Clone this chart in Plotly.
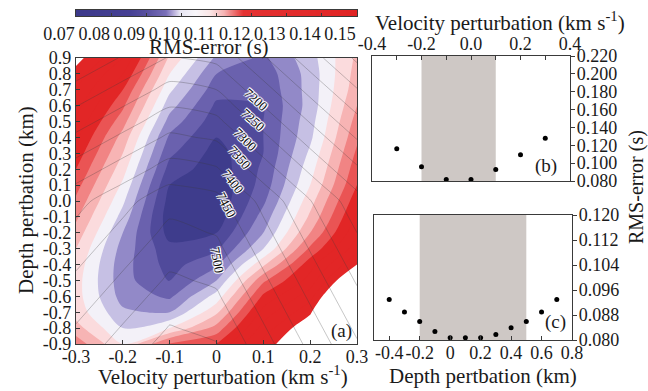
import plotly.graph_objects as go

W, H = 648, 391

# ---------------- data ----------------
vel = [-0.3, -0.2, -0.1, 0.0, 0.1, 0.2, 0.3]
# depth rows listed from top (0.9) to bottom (-0.9)
dep_top_down = [0.9, 0.8, 0.7, 0.6, 0.5, 0.4, 0.3, 0.2, 0.1, 0.0,
                -0.1, -0.2, -0.3, -0.4, -0.5, -0.6, -0.7, -0.8, -0.9]
rms_rows = [
    [0.152, 0.140, 0.114, 0.099, 0.094, 0.103, 0.116],
    [0.148, 0.135, 0.110, 0.095, 0.092, 0.102, 0.117],
    [0.145, 0.130, 0.106, 0.092, 0.091, 0.102, 0.118],
    [0.142, 0.126, 0.102, 0.089, 0.090, 0.102, 0.120],
    [0.139, 0.122, 0.098, 0.087, 0.090, 0.103, 0.122],
    [0.136, 0.118, 0.094, 0.085, 0.090, 0.104, 0.124],
    [0.133, 0.115, 0.091, 0.083, 0.090, 0.106, 0.126],
    [0.130, 0.112, 0.088, 0.082, 0.091, 0.108, 0.128],
    [0.127, 0.109, 0.085, 0.081, 0.092, 0.110, 0.130],
    [0.124, 0.106, 0.083, 0.081, 0.094, 0.113, 0.133],
    [0.121, 0.103, 0.082, 0.082, 0.097, 0.116, 0.136],
    [0.118, 0.100, 0.083, 0.085, 0.100, 0.120, 0.139],
    [0.115, 0.098, 0.0865, 0.089, 0.105, 0.126, 0.143],
    [0.113, 0.097, 0.088, 0.094, 0.114, 0.133, 0.150],
    [0.112, 0.097, 0.0895, 0.100, 0.124, 0.137, 0.160],
    [0.112, 0.098, 0.094, 0.107, 0.131, 0.143, 0.170],
    [0.113, 0.101, 0.100, 0.114, 0.137, 0.149, 0.180],
    [0.117, 0.105, 0.110, 0.122, 0.142, 0.155, 0.190],
    [0.123, 0.110, 0.126, 0.130, 0.147, 0.158, 0.200],
]
# secondary field drawn as thin grey contour lines
t_rows = [
    [7105, 7155, 7204, 7188, 7106, 7023, 6941],
    [7136, 7186, 7235, 7219, 7137, 7054, 6972],
    [7167, 7217, 7266, 7250, 7168, 7085, 7003],
    [7198, 7248, 7297, 7281, 7199, 7116, 7034],
    [7229, 7279, 7328, 7312, 7230, 7147, 7065],
    [7260, 7310, 7359, 7343, 7261, 7178, 7096],
    [7291, 7341, 7390, 7374, 7292, 7209, 7127],
    [7322, 7372, 7421, 7405, 7323, 7240, 7158],
    [7353, 7403, 7452, 7436, 7354, 7271, 7189],
    [7384, 7434, 7483, 7467, 7385, 7302, 7220],
    [7399, 7449, 7498, 7482, 7400, 7317, 7235],
    [7414, 7464, 7513, 7497, 7415, 7332, 7250],
    [7429, 7479, 7528, 7512, 7430, 7347, 7265],
    [7444, 7494, 7543, 7527, 7445, 7362, 7280],
    [7459, 7509, 7558, 7542, 7460, 7377, 7295],
    [7474, 7524, 7573, 7557, 7475, 7392, 7310],
    [7489, 7539, 7588, 7572, 7490, 7407, 7325],
    [7504, 7554, 7603, 7587, 7505, 7422, 7340],
    [7519, 7569, 7618, 7602, 7520, 7437, 7355],
]
label_vals = [7200, 7250, 7300, 7350, 7400, 7450, 7500]
label_vel = [0.084, 0.077, 0.061, 0.049, 0.035, 0.020, 0.002]
label_dep = [0.638, 0.512, 0.386, 0.271, 0.124, -0.025, -0.374]
label_angle = [42, 42, 45, 48, 52, 62, 80]

b_vel = [-0.3, -0.2, -0.1, 0.0, 0.1, 0.2, 0.3]
b_rms = [0.116, 0.0959, 0.0818, 0.0818, 0.0929, 0.1095, 0.128]
b_shade = [-0.2, 0.1]

c_dep = [-0.4, -0.3, -0.2, -0.1, 0.0, 0.1, 0.2, 0.3, 0.4, 0.5, 0.6, 0.7]
c_rms = [0.0930, 0.0890, 0.0859, 0.0827, 0.0807, 0.0807, 0.0807, 0.0818,
         0.0839, 0.0859, 0.0890, 0.0930]
c_shade = [-0.2, 0.5]

a_xticks = [-0.3, -0.2, -0.1, 0.0, 0.1, 0.2, 0.3]
a_xtext = ["-0.3", "-0.2", "-0.1", "0", "0.1", "0.2", "0.3"]
a_yticks = dep_top_down
a_ytext = [("%.1f" % v).replace("-0.0", "0.0") for v in a_yticks]
b_xticks = [-0.4, -0.2, 0.0, 0.2, 0.4]
b_xtext = ["-0.4", "-0.2", "0.0", "0.2", "0.4"]
c_xticks = [-0.4, -0.2, 0.0, 0.2, 0.4, 0.6, 0.8]
c_xtext = ["-0.4", "-0.2", "0", "0.2", "0.4", "0.6", "0.8"]
cbar_ticks = [0.07, 0.08, 0.09, 0.10, 0.11, 0.12, 0.13, 0.14, 0.15]

# ---------------- styles ----------------
FONT = "Liberation Serif"
INK = "#1a1a1a"
FRAME = "#3a3a3a"

lev_start, lev_end, lev_size = 0.085, 0.150, 0.005
band_vals = [0.0825, 0.0875, 0.0925, 0.0975, 0.1025, 0.1075, 0.1125,
             0.1175, 0.1225, 0.1275, 0.1325, 0.1475]
band_cols = ["rgb(62,60,140)", "rgb(80,74,155)", "rgb(106,97,174)",
             "rgb(146,137,200)", "rgb(198,192,228)", "rgb(243,241,248)",
             "rgb(251,219,221)", "rgb(247,180,180)", "rgb(241,132,132)",
             "rgb(234,84,84)", "rgb(226,38,38)", "rgb(226,38,38)"]
lo = lev_start - lev_size / 2
hi = lev_end + lev_size / 2
cs_fill = [[round((v - lo) / (hi - lo), 5), c]
           for v, c in zip(band_vals, band_cols)]
cs_fill[0][0] = 0.0
cs_fill.append([round((band_vals[-1] - lo) / (hi - lo) + 0.004, 5),
                "rgb(255,255,255)"])
cs_fill.append([1.0, "rgb(255,255,255)"])

cb_vals = [0.070, 0.085, 0.090, 0.0955, 0.0975, 0.0995, 0.104, 0.108,
           0.112, 0.1175, 0.150]
cb_cols = ["rgb(60,57,138)", "rgb(70,64,148)", "rgb(88,80,160)",
           "rgb(122,112,185)", "rgb(178,168,215)", "rgb(232,230,243)",
           "rgb(248,246,250)", "rgb(250,230,230)", "rgb(245,180,180)",
           "rgb(228,50,50)", "rgb(224,35,35)"]
cs_bar = [[round((v - 0.07) / 0.08, 5), c] for v, c in zip(cb_vals, cb_cols)]
cs_bar[0][0] = 0.0
cs_bar[-1][0] = 1.0


def px_x(p):
    return p / W


def px_y(p):
    return 1 - p / H


dep = dep_top_down[::-1]
rms = rms_rows[::-1]
tz = t_rows[::-1]

fig = go.Figure()

fig.add_trace(go.Contour(
    x=vel, y=dep, z=rms, xaxis="x", yaxis="y",
    colorscale=cs_fill, showscale=False,
    contours=dict(start=lev_start, end=lev_end, size=lev_size,
                  coloring="fill", showlines=False),
    line=dict(width=0, smoothing=0.8), hoverinfo="skip"))

fig.add_trace(go.Contour(
    x=vel, y=dep, z=tz, xaxis="x", yaxis="y", showscale=False,
    contours=dict(start=6950, end=7600, size=50, coloring="none"),
    line=dict(color="rgba(60,60,60,0.42)", width=0.7, smoothing=0.6),
    hoverinfo="skip"))

fig.add_trace(go.Heatmap(
    x=[cbar_ticks[0], cbar_ticks[-1]], y=[0, 1],
    z=[[cbar_ticks[0], cbar_ticks[-1]], [cbar_ticks[0], cbar_ticks[-1]]],
    zmin=cbar_ticks[0], zmax=cbar_ticks[-1], zsmooth="best",
    colorscale=cs_bar, showscale=False, xaxis="x4", yaxis="y4",
    hoverinfo="skip"))

fig.add_trace(go.Scatter(
    x=b_vel, y=b_rms, mode="markers", xaxis="x2", yaxis="y2",
    marker=dict(color="black", size=5), showlegend=False))
fig.add_trace(go.Scatter(
    x=c_dep, y=c_rms, mode="markers", xaxis="x3", yaxis="y3",
    marker=dict(color="black", size=5), showlegend=False))

tickfont = dict(family=FONT, size=18, color=INK)
frame = dict(showline=True, linecolor=FRAME, linewidth=1.3, mirror=True,
             showgrid=False, zeroline=False, tickfont=tickfont,
             tickcolor=FRAME, ticklen=4, tickwidth=1.2, automargin=False,
             tickangle=0)

fig.update_layout(
    template="none",
    width=W, height=H, autosize=False,
    margin=dict(l=0, r=0, t=0, b=0, pad=0, autoexpand=False),
    paper_bgcolor="white", plot_bgcolor="white",
    showlegend=False,
    font=dict(family=FONT, color=INK),
    xaxis=dict(domain=[px_x(76), px_x(357)], range=[-0.3, 0.3],
               anchor="y", tickvals=a_xticks, ticktext=a_xtext,
               ticks="inside", ticklabelstandoff=-4, **frame),
    yaxis=dict(domain=[px_y(344), px_y(58)], range=[-0.9, 0.9],
               anchor="x", tickvals=a_yticks, ticktext=a_ytext,
               ticks="inside", ticklabelstandoff=0, **frame),
    xaxis2=dict(domain=[px_x(372), px_x(570)], range=[-0.4, 0.4],
                anchor="y2", side="top", tickvals=b_xticks, ticktext=b_xtext,
                ticks="inside", ticklabelstandoff=-2,
                minor=dict(dtick=0.1, ticks="inside", ticklen=4,
                           tickcolor=FRAME),
                **frame),
    yaxis2=dict(domain=[px_y(181), px_y(56)], range=[0.08, 0.22],
                anchor="x2", side="right", dtick=0.02, tickformat=".3f",
                ticks="outside", ticklabelstandoff=-2, **frame),
    xaxis3=dict(domain=[px_x(374), px_x(572)], range=[-0.5, 0.8],
                anchor="y3", tickvals=c_xticks, ticktext=c_xtext,
                ticks="inside", ticklabelstandoff=-4, **frame),
    yaxis3=dict(domain=[px_y(340), px_y(215)], range=[0.08, 0.12],
                anchor="x3", side="right", dtick=0.008, tickformat=".3f",
                ticks="outside", ticklabelstandoff=-2, **frame),
    xaxis4=dict(domain=[px_x(76), px_x(357)], range=[0.07, 0.15],
                anchor="y4", tickvals=cbar_ticks,
                ticktext=["%.2f" % t for t in cbar_ticks],
                ticks="inside", ticklabelshift=-17, ticklabelstandoff=1,
                **dict(frame, ticklen=3)),
    yaxis4=dict(domain=[px_y(16), px_y(10)], range=[0, 1], anchor="x4",
                showticklabels=False, ticks="", showline=True,
                linecolor=FRAME, linewidth=1.3, mirror=True,
                showgrid=False, zeroline=False, automargin=False),
)

fig.add_shape(type="rect", xref="x2", yref="y2 domain", x0=b_shade[0],
              x1=b_shade[1], y0=0, y1=1, fillcolor="rgb(206,200,197)",
              line=dict(width=0), layer="below")
fig.add_shape(type="rect", xref="x3", yref="y3 domain", x0=c_shade[0],
              x1=c_shade[1], y0=0, y1=1, fillcolor="rgb(206,200,197)",
              line=dict(width=0), layer="below")

ann = []


def add_text(text, x, y, angle=0, size=21, xanchor="center"):
    ann.append(dict(text=text, x=px_x(x), y=px_y(y), xref="paper",
                    yref="paper", showarrow=False, textangle=angle,
                    xanchor=xanchor, yanchor="middle",
                    font=dict(family=FONT, size=size, color=INK)))


add_text("RMS-error (s)", 209, 47)
add_text("Velocity perturbation (km s<sup>-1</sup>)", 223, 375)
add_text("Depth pertbation (km)", 26, 200, angle=-90)
add_text("Velocity perturbation (km s<sup>-1</sup>)", 500, 22)
add_text("Depth pertbation (km)", 483, 376)
add_text("RMS-error (s)", 636, 187, angle=-90, size=20)
add_text("(a)", 341, 331, size=19)
add_text("(b)", 546, 166, size=19)
add_text("(c)", 555, 322, size=19)

halo = ("-1px -1px 0 #fff, 1px -1px 0 #fff, -1px 1px 0 #fff, "
        "1px 1px 0 #fff, 0 0 2px #fff")
for val, xv, yv, ang in zip(label_vals, label_vel, label_dep, label_angle):
    ann.append(dict(text=str(val), x=xv, y=yv, xref="x", yref="y",
                    showarrow=False, textangle=ang,
                    font=dict(family=FONT, size=13, color="#111",
                              shadow=halo)))

fig.update_layout(annotations=ann)

fig.write_html(
    "out.html",
    config={"displayModeBar": False},
    post_script="document.body.style.margin='0';"
                "document.body.style.overflow='hidden';")
